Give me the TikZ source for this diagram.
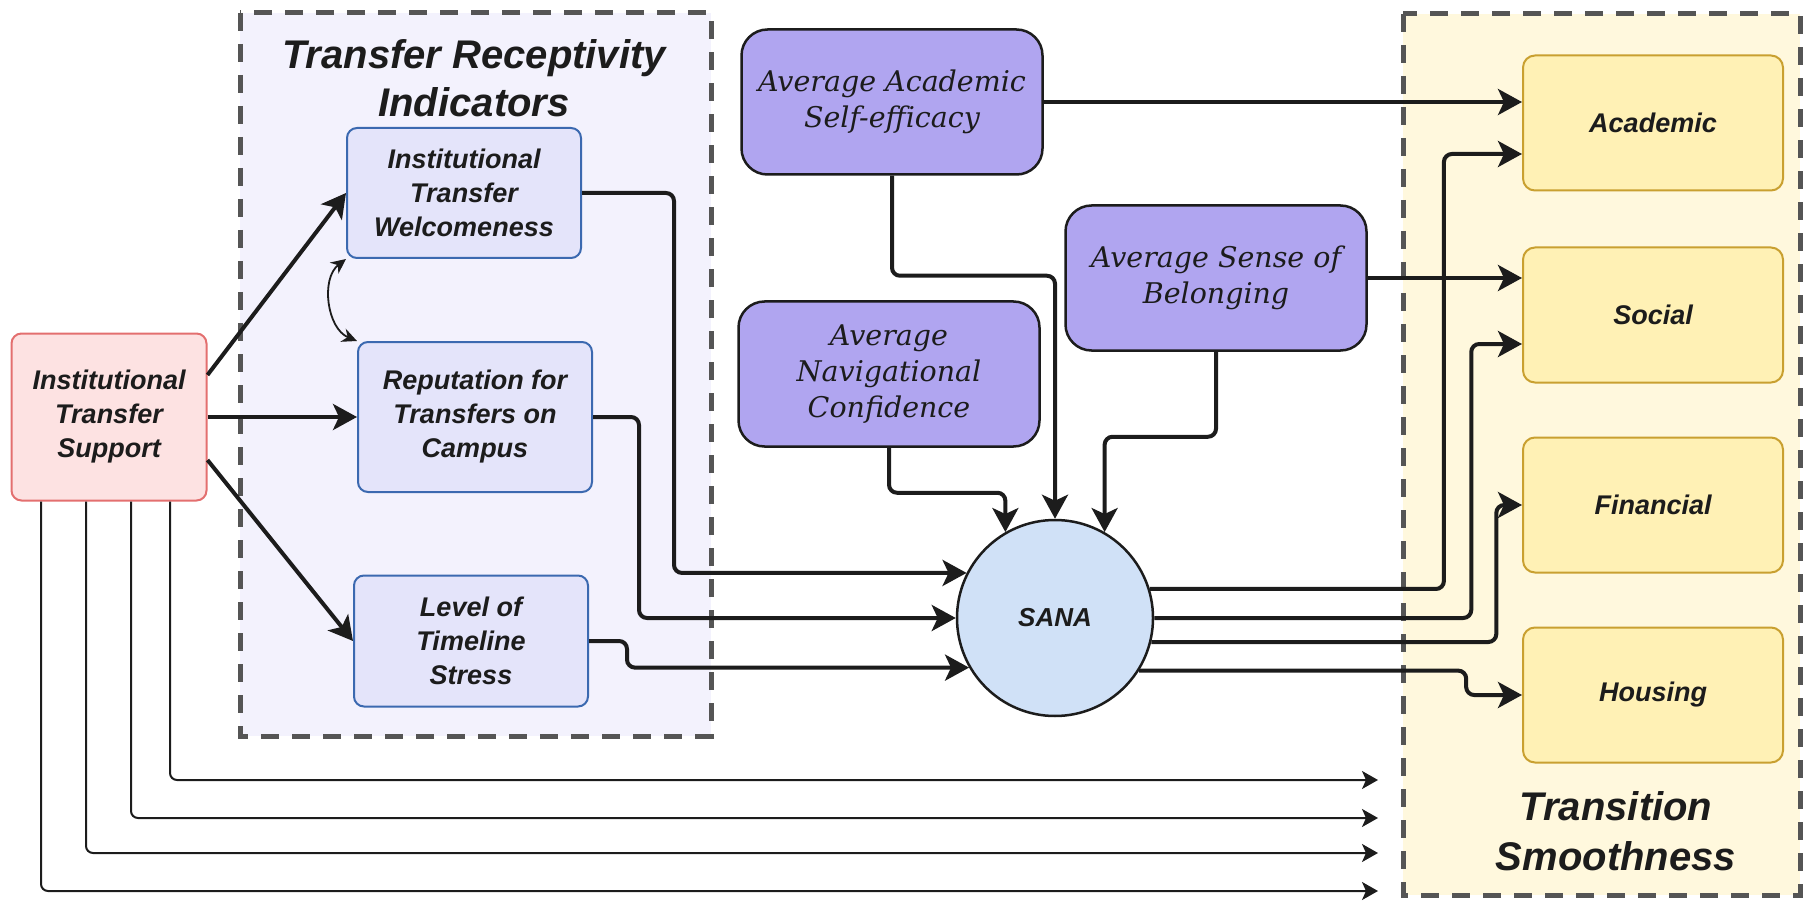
\documentclass[tikz,border=0pt]{standalone}
\usepackage{fontspec}
\usetikzlibrary{arrows.meta,positioning}
\newfontfamily\labelfont{Liberation Sans}
\newfontfamily\avgfont{DejaVu Serif}
\definecolor{inkdark}{HTML}{1C1C1C}
\definecolor{framedraw}{HTML}{555555}
\definecolor{srcfill}{HTML}{FDE2E2}
\definecolor{srcdraw}{HTML}{E36F6F}
\definecolor{indfill}{HTML}{E4E4FA}
\definecolor{inddraw}{HTML}{3B69B0}
\definecolor{grpfill}{HTML}{F3F2FD}
\definecolor{avgfill}{HTML}{B0A5F0}
\definecolor{outfill}{HTML}{FFF1B5}
\definecolor{outdraw}{HTML}{C9A030}
\definecolor{tsfill}{HTML}{FFF8DD}
\definecolor{sanafill}{HTML}{D0E1F7}
\tikzset{
        boxnode/.style={align=center, inner sep=0pt, text=inkdark},
        % Support node
        node_support/.style={boxnode, rectangle, rounded corners=10pt, draw=srcdraw, fill=srcfill, line width=2pt,
            minimum width=195pt, minimum height=167pt, font=\labelfont\bfseries\itshape\fontsize{27}{34}\selectfont},
        % Receptivity indicators
        node_indicator/.style={boxnode, rectangle, rounded corners=10pt, draw=inddraw, fill=indfill, line width=2pt,
            minimum width=234pt, font=\labelfont\bfseries\itshape\fontsize{27}{34}\selectfont},
        % Student averages
        node_average/.style={boxnode, rectangle, rounded corners=26pt, draw=inkdark, fill=avgfill, line width=2.5pt,
            minimum width=301pt, minimum height=145pt, font=\avgfont\itshape\fontsize{28.5}{36}\selectfont},
        % Smoothness outcomes
        node_outcome/.style={boxnode, rectangle, rounded corners=12pt, draw=outdraw, fill=outfill, line width=2pt,
            minimum width=260pt, minimum height=135pt, font=\labelfont\bfseries\itshape\fontsize{27}{32}\selectfont},
        % Mediator
        node_sana/.style={boxnode, circle, draw=inkdark, fill=sanafill, line width=2.5pt, minimum size=196pt,
            font=\labelfont\bfseries\itshape\fontsize{26}{32}\selectfont},
        % Group frames
        group_frame/.style={draw=framedraw, line width=5pt, dash pattern=on 18pt off 13pt},
        group_title/.style={align=center, text=inkdark, inner sep=0pt},
        link_thick/.style={draw=inkdark, line width=4pt, rounded corners=8pt, -{Stealth[length=24pt, width=26pt, inset=6pt]}},
        link_thin/.style={draw=inkdark, line width=2pt, rounded corners=7pt, -{Stealth[length=16pt, width=18pt, inset=4pt]}}
}
\begin{document}
\begin{tikzpicture}[x=1pt, y=-1pt]
    \useasboundingbox (0,0) rectangle (1815,901);
    % group backgrounds
    \draw[group_frame, fill=grpfill] (240,13) rectangle (711,736);
    \draw[group_frame, fill=tsfill] (1403,14) rectangle (1800,895);
    \node[group_title, font=\labelfont\bfseries\itshape\fontsize{40}{48}\selectfont] (titleTRI) at (474,78) {Transfer Receptivity\\Indicators};
    \node[group_title, font=\labelfont\bfseries\itshape\fontsize{40}{50}\selectfont] (titleTS) at (1616,831) {Transition\\Smoothness};

    % nodes
    \node[node_support] (ITS) at (109,417) {Institutional\\Transfer\\Support};
    \node[node_indicator, minimum height=130pt] (Welcome) at (464,193) {Institutional\\Transfer\\Welcomeness};
    \node[node_indicator, minimum height=150pt] (Reput) at (475,417) {Reputation for\\Transfers on\\Campus};
    \node[node_indicator, minimum height=131pt] (Timeline) at (471,641) {Level of\\Timeline\\Stress};
    \node[node_average] (AASE) at (892,102) {Average Academic\\Self-efficacy};
    \node[node_average] (ANC) at (889,374) {Average\\Navigational\\Confidence};
    \node[node_average] (ASB) at (1216,278) {Average Sense of\\Belonging};
    \node[node_sana] (SANA) at (1055,618) {SANA};
    \node[node_outcome] (Academic) at (1653,123) {Academic};
    \node[node_outcome] (Social) at (1653,315) {Social};
    \node[node_outcome] (Financial) at (1653,505) {Financial};
    \node[node_outcome] (Housing) at (1653,695) {Housing};

    % support to indicators
    \draw[link_thick] ([yshift=42pt]ITS.east) -- (Welcome.west);
    \draw[link_thick] (ITS.east) -- (Reput.west);
    \draw[link_thick] ([yshift=-43pt]ITS.east) -- (Timeline.west);
    \draw[draw=inkdark, line width=1.8pt, {Stealth[length=15pt, width=14pt]}-{Stealth[length=15pt, width=14pt]}]
        (Welcome.south west) to[bend right=60] (Reput.north west);

    % indicators to SANA
    \draw[link_thick] (Welcome.east) -- ++(92,0) |- (SANA.153);
    \draw[link_thick] (Reput.east) -- ++(46,0) |- (SANA.west);
    \draw[link_thick] (Timeline.east) -- ++(38,0) |- (SANA.210);

    % averages to SANA
    \draw[link_thick] (AASE.south) -- ++(0,100) -| (SANA.north);
    \draw[link_thick] (ANC.south) -- ++(0,45) -| (SANA.120);
    \draw[link_thick] (ASB.south) -- ++(0,85) -| (SANA.60);

    % direct paths to outcomes
    \draw[link_thick] (AASE.east) -- (AASE.east -| Academic.west);
    \draw[link_thick] (ASB.east) -- (ASB.east -| Social.west);

    % SANA to outcomes
    \draw[link_thick] (SANA.17) -- ++(294,0) |- ([yshift=-31pt]Academic.west);
    \draw[link_thick] (SANA.east) -- ++(317,0) |- ([yshift=-29pt]Social.west);
    \draw[link_thick] (SANA.-14) -- ++(345,0) |- (Financial.west);
    \draw[link_thick] (SANA.-32) -- ++(327,0) |- (Housing.west);

    % support straight to smoothness
    \foreach \dx/\yy [count=\i] in {61/780, 22/818, -23/853, -68/891} {
        \coordinate (sink\i) at (1378,\yy);
        \draw[link_thin] ([xshift=\dx pt]ITS.south) |- (sink\i);
    }
\end{tikzpicture}
\end{document}
